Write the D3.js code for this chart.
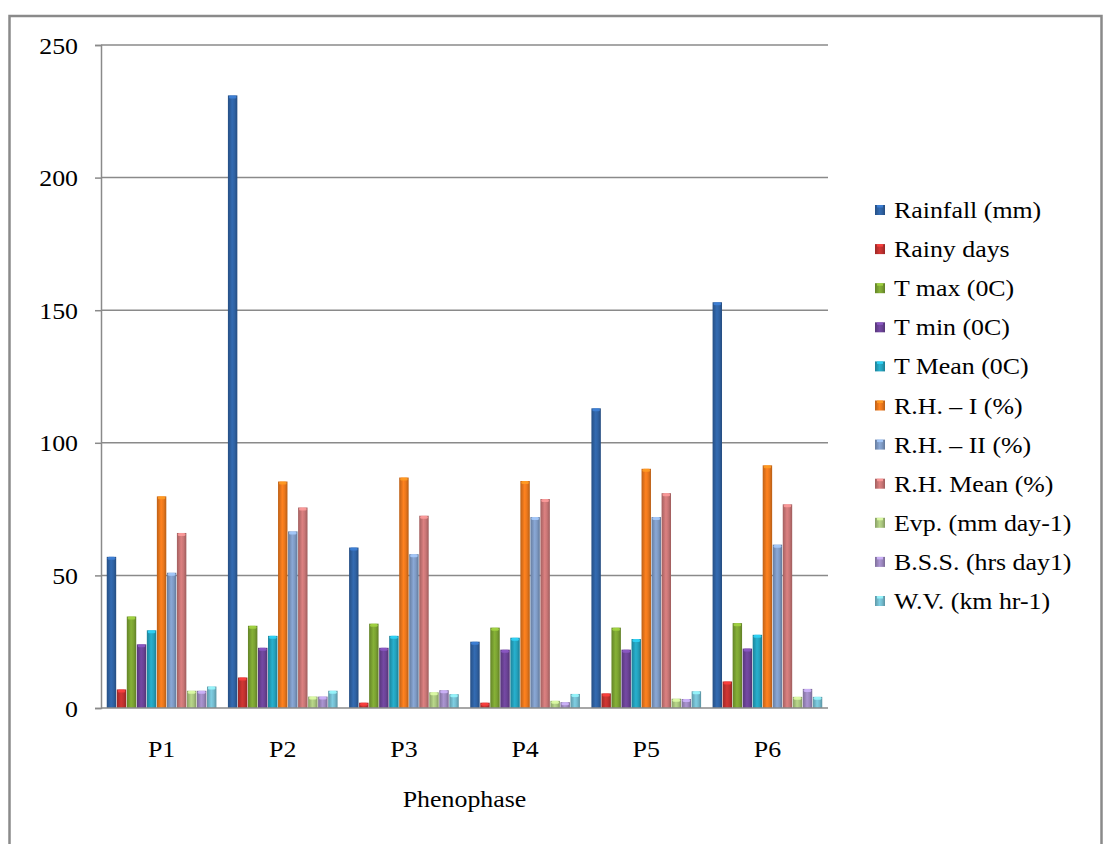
<!DOCTYPE html>
<html>
<head>
<meta charset="utf-8">
<script src="https://cdn.jsdelivr.net/npm/d3@7"></script>
<style>
  html, body { margin: 0; padding: 0; background: #fff; }
  svg { display: block; }
  text { font-family: "Liberation Serif", "Times New Roman", serif; fill: #000; }
</style>
</head>
<body>
<svg id="chart" width="1105" height="844"></svg>
<script>
// Phenophase-wise weather parameters
const categories = ["P1", "P2", "P3", "P4", "P5", "P6"];
const seriesNames = [
  "Rainfall (mm)", "Rainy days", "T max (0C)", "T min (0C)", "T Mean (0C)",
  "R.H. – I (%)", "R.H. – II (%)", "R.H. Mean (%)", "Evp. (mm day-1)",
  "B.S.S. (hrs day1)", "W.V. (km hr-1)"
];
const rainfall  = [57, 231, 60.5, 25, 113, 153];
const rainyDays = [7, 11.5, 2, 2, 5.5, 10];
const tMax      = [34.5, 31, 31.8, 30.3, 30.3, 32];
const tMin      = [24, 22.7, 22.7, 22, 22, 22.4];
const tMean     = [29.3, 27.2, 27.2, 26.5, 26, 27.6];
const rh1       = [79.8, 85.4, 86.9, 85.6, 90.2, 91.5];
const rh2       = [51, 66.6, 58, 72, 72, 61.6];
const rhMean    = [66, 75.6, 72.5, 78.8, 81, 76.8];
const evp       = [6.5, 4.3, 5.9, 2.7, 3.5, 4.2];
const bss       = [6.5, 4.3, 6.7, 2.2, 3.4, 7.2];
const wv        = [8.1, 6.5, 5.2, 5.3, 6.3, 4.2];
const yTicks    = [0, 50, 100, 150, 200, 250];

const seriesValues = [rainfall, rainyDays, tMax, tMin, tMean, rh1, rh2, rhMean, evp, bss, wv];
const colors = [
  "#2f62a3", "#c0312f", "#7ba232", "#6b4396", "#24a1bc", "#ea771c",
  "#7e9ac4", "#c97676", "#a9c57e", "#9c88bf", "#74bccf"
];

const svg = d3.select("#chart");
const plotLeft = 101, plotRight = 828, plotTop = 45, plotBottom = 708;
const textStretch = 1.15;

// outer frame
svg.append("rect")
  .attr("x", 9.5).attr("y", 16).attr("width", 1092).attr("height", 840)
  .attr("fill", "#fff").attr("stroke", "#8a8a8a").attr("stroke-width", 2.5);

const defs = svg.append("defs");
colors.forEach((c, i) => {
  const base = d3.color(c);
  const g = defs.append("linearGradient").attr("id", "grad" + i)
    .attr("x1", "0").attr("x2", "1").attr("y1", "0").attr("y2", "0");
  g.append("stop").attr("offset", "0").attr("stop-color", base.darker(0.6));
  g.append("stop").attr("offset", "0.45").attr("stop-color", base.brighter(0.25));
  g.append("stop").attr("offset", "0.7").attr("stop-color", base);
  g.append("stop").attr("offset", "1").attr("stop-color", base.darker(0.7));
});

const y = d3.scaleLinear().domain([0, 250]).range([plotBottom, plotTop]);
const x0 = d3.scaleBand().domain(categories).range([plotLeft, plotRight])
  .paddingInner(0.09).paddingOuter(0.045);
const x1 = d3.scaleBand().domain(d3.range(seriesNames.length))
  .range([0, x0.bandwidth()]).padding(0);

// horizontal gridlines
svg.append("g").selectAll("line").data(yTicks.filter(t => t > 0)).join("line")
  .attr("x1", plotLeft).attr("x2", plotRight)
  .attr("y1", d => y(d)).attr("y2", d => y(d))
  .attr("stroke", "#8a8a8a").attr("stroke-width", 1.5);

// y axis
const yAxis = svg.append("g").attr("transform", `translate(${plotLeft},0)`)
  .call(d3.axisLeft(y).tickValues(yTicks).tickSize(6).tickPadding(0).tickFormat(d3.format("d")));
yAxis.select(".domain").attr("stroke", "#8a8a8a").attr("stroke-width", 1.5);
yAxis.selectAll(".tick line").attr("stroke", "#8a8a8a").attr("stroke-width", 1.5);
yAxis.selectAll(".tick text")
  .attr("x", null).attr("dy", null)
  .attr("font-size", 22.5)
  .attr("text-anchor", "end")
  .attr("transform", `translate(-23,8) scale(${textStretch},1)`);

// bars
const groups = svg.append("g").selectAll("g").data(categories).join("g")
  .attr("transform", d => `translate(${x0(d)},0)`);

groups.each(function(cat, ci) {
  const g = d3.select(this);
  const rows = seriesValues.map((vals, si) => ({ si, v: vals[ci] }));
  g.selectAll("rect.bar").data(rows).join("rect")
    .attr("class", "bar")
    .attr("x", d => x1(d.si) + 0.3)
    .attr("width", x1.bandwidth() - 0.6)
    .attr("y", d => y(d.v))
    .attr("height", d => y(0) - y(d.v))
    .attr("fill", d => `url(#grad${d.si})`);
  // lighter cap on top of each bar
  g.selectAll("rect.cap").data(rows).join("rect")
    .attr("class", "cap")
    .attr("x", d => x1(d.si) + 1.2)
    .attr("width", x1.bandwidth() - 2.4)
    .attr("y", d => y(d.v))
    .attr("height", 3)
    .attr("rx", 1.5)
    .attr("fill", d => d3.color(colors[d.si]).brighter(0.8))
    .attr("opacity", 0.85);
});

// x axis baseline
svg.append("line")
  .attr("x1", plotLeft).attr("x2", plotRight).attr("y1", plotBottom).attr("y2", plotBottom)
  .attr("stroke", "#8a8a8a").attr("stroke-width", 1.5);

// category labels
svg.append("g").selectAll("text").data(categories).join("text")
  .attr("transform", d => `translate(${x0(d) + x0.bandwidth() / 2},757) scale(${textStretch},1)`)
  .attr("text-anchor", "middle").attr("font-size", 22.5)
  .text(d => d);

// axis title
svg.append("text")
  .attr("transform", `translate(${(plotLeft + plotRight) / 2},807) scale(${textStretch},1)`)
  .attr("text-anchor", "middle").attr("font-size", 22.5)
  .text("Phenophase");

// legend
const legend = svg.append("g");
const legendY = d3.scalePoint().domain(d3.range(seriesNames.length)).range([210, 601]);
seriesNames.forEach((name, i) => {
  const ly = legendY(i);
  legend.append("rect")
    .attr("x", 875).attr("y", ly - 5).attr("width", 10).attr("height", 10)
    .attr("fill", `url(#grad${i})`);
  legend.append("rect")
    .attr("x", 877).attr("y", ly - 5).attr("width", 6).attr("height", 2.5)
    .attr("fill", d3.color(colors[i]).brighter(0.8)).attr("opacity", 0.85);
  legend.append("text")
    .attr("transform", `translate(894,${ly + 8}) scale(${textStretch},1)`)
    .attr("font-size", 22.5)
    .text(name);
});
</script>
</body>
</html>
